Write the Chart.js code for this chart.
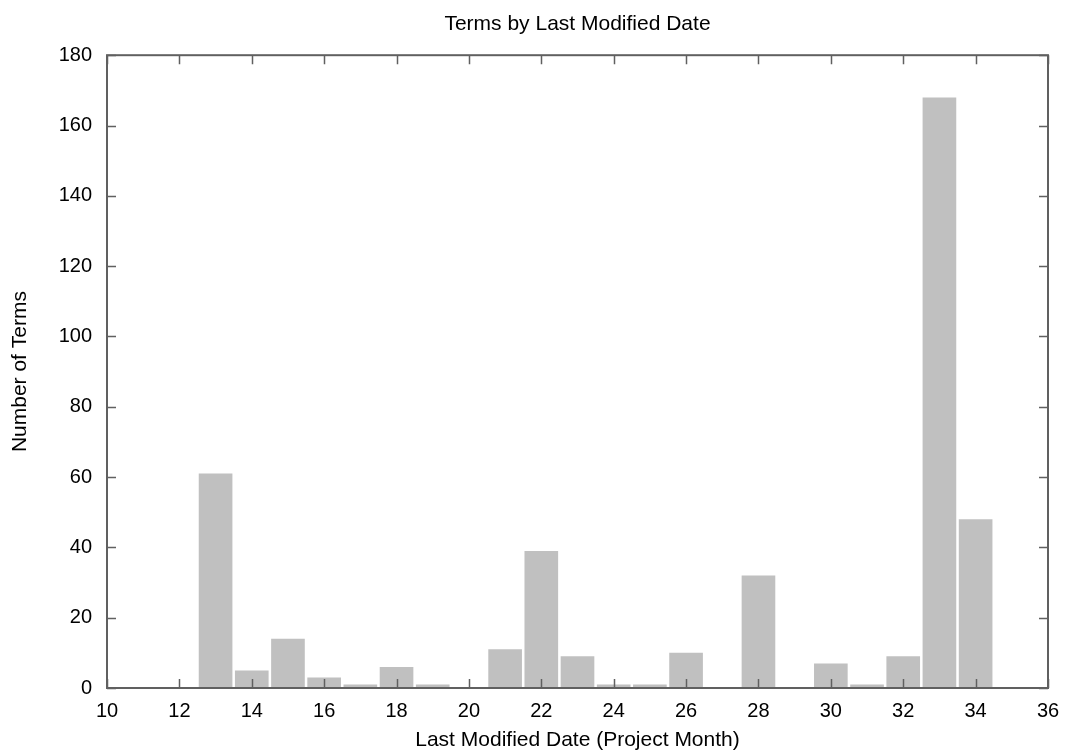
<!DOCTYPE html>
<html>
<head>
<meta charset="utf-8">
<script src="https://cdn.jsdelivr.net/npm/chart.js@4.4.0/dist/chart.umd.min.js"></script>
<style>
  html, body { margin: 0; padding: 0; background: #fff; }
  #wrap { width: 1065px; height: 751px; }
</style>
</head>
<body>
<div id="wrap"><canvas id="termsChart"></canvas></div>
<script>
// project month and number of terms last modified in it
const months = [13, 14, 15, 16, 17, 18, 19, 21, 22, 23, 24, 25, 26, 28, 30, 31, 32, 33, 34];
const termCounts = [61, 5, 14, 3, 1, 6, 1, 11, 39, 9, 1, 1, 10, 32, 7, 1, 9, 168, 48];

const xMin = 10, xMax = 36, xStep = 2;
const yMin = 0, yMax = 180, yStep = 20;

const barData = months.map((m, i) => ({ x: m, y: termCounts[i] }));

const fontFamily = "'Liberation Sans', Arial, Helvetica, sans-serif";

// gnuplot style frame with inward ticks on all four sides
const frameTicks = {
    id: 'frameTicks',
    afterDatasetsDraw(chart) {
        const ctx = chart.ctx;
        const area = chart.chartArea;
        const xs = chart.scales.x;
        const ys = chart.scales.y;
        const len = 9;
        ctx.save();
        ctx.strokeStyle = '#606060';
        ctx.lineWidth = 1.5;
        ctx.beginPath();
        xs.ticks.forEach(t => {
            const px = Math.round(xs.getPixelForValue(t.value)) + 0.5;
            ctx.moveTo(px, area.bottom);
            ctx.lineTo(px, area.bottom - len);
            ctx.moveTo(px, area.top);
            ctx.lineTo(px, area.top + len);
        });
        ys.ticks.forEach(t => {
            const py = Math.round(ys.getPixelForValue(t.value)) + 0.5;
            ctx.moveTo(area.left, py);
            ctx.lineTo(area.left + len, py);
            ctx.moveTo(area.right, py);
            ctx.lineTo(area.right - len, py);
        });
        ctx.stroke();
        ctx.lineWidth = 2;
        ctx.strokeRect(area.left, area.top, area.right - area.left, area.bottom - area.top);
        ctx.restore();
    }
};

new Chart(document.getElementById('termsChart'), {
    type: 'bar',
    data: {
        datasets: [{
            label: 'Terms',
            data: barData,
            backgroundColor: '#c0c0c0',
            borderWidth: 0,
            barPercentage: 0.93,
            categoryPercentage: 1.0
        }]
    },
    options: {
        responsive: true,
        maintainAspectRatio: false,
        animation: false,
        layout: { padding: { top: 0, right: 17, bottom: 0, left: 0 } },
        plugins: {
            legend: { display: false },
            tooltip: { enabled: false },
            title: {
                display: true,
                fullSize: false,
                text: 'Terms by Last Modified Date',
                color: '#000',
                font: { family: fontFamily, size: 21, weight: 'normal' },
                padding: { top: 12, bottom: 18 }
            }
        },
        scales: {
            x: {
                type: 'linear',
                offset: false,
                min: xMin,
                max: xMax,
                grid: { display: false, drawTicks: false, offset: false },
                border: { display: false },
                ticks: {
                    stepSize: xStep,
                    color: '#000',
                    padding: 11,
                    maxRotation: 0,
                    font: { family: fontFamily, size: 20 }
                },
                title: {
                    display: true,
                    text: 'Last Modified Date (Project Month)',
                    color: '#000',
                    font: { family: fontFamily, size: 21 },
                    padding: { top: 4, bottom: -2 }
                },
                afterFit(scale) {
                    scale.height = 63;
                    scale.paddingLeft = 0;
                    scale.paddingRight = 0;
                }
            },
            y: {
                min: yMin,
                max: yMax,
                grid: { display: false, drawTicks: false },
                border: { display: false },
                ticks: {
                    stepSize: yStep,
                    color: '#000',
                    padding: 15,
                    font: { family: fontFamily, size: 20 }
                },
                title: {
                    display: true,
                    text: 'Number of Terms',
                    color: '#000',
                    font: { family: fontFamily, size: 21 },
                    padding: { top: 8, bottom: 0 }
                },
                afterFit(scale) { scale.width = 107; }
            }
        }
    },
    plugins: [frameTicks]
});
</script>
</body>
</html>
